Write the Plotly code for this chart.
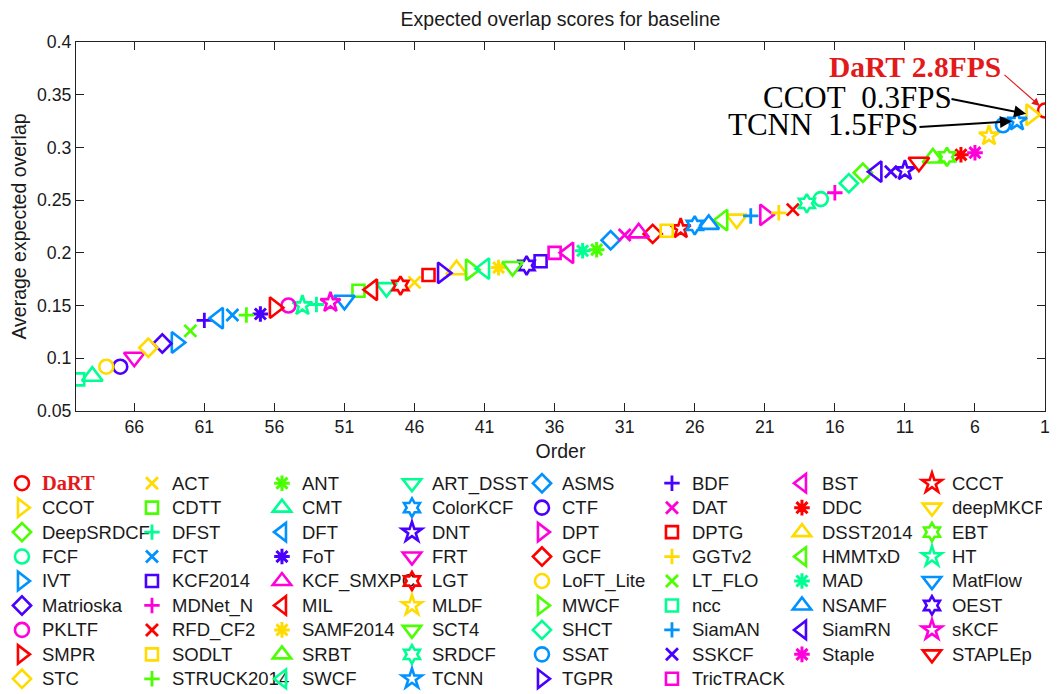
import plotly.graph_objects as go

# ---------------- data ----------------
trackers = ["DaRT", "ACT", "ANT", "ART_DSST", "ASMS", "BDF", "BST", "CCCT",
            "CCOT", "CDTT", "CMT", "ColorKCF", "CTF", "DAT", "DDC", "deepMKCF",
            "DeepSRDCF", "DFST", "DFT", "DNT", "DPT", "DPTG", "DSST2014", "EBT",
            "FCF", "FCT", "FoT", "FRT", "GCF", "GGTv2", "HMMTxD", "HT",
            "IVT", "KCF2014", "KCF_SMXPC", "LGT", "LoFT_Lite", "LT_FLO", "MAD", "MatFlow",
            "Matrioska", "MDNet_N", "MIL", "MLDF", "MWCF", "ncc", "NSAMF", "OEST",
            "PKLTF", "RFD_CF2", "SAMF2014", "SCT4", "SHCT", "SiamAN", "SiamRN", "sKCF",
            "SMPR", "SODLT", "SRBT", "SRDCF", "SSAT", "SSKCF", "Staple", "STAPLEp",
            "STC", "STRUCK2014", "SWCF", "TCNN", "TGPR", "TricTRACK"]

order = [1, 46, 33, 48, 32, 61, 35, 27,
         2, 50, 69, 26, 67, 31, 7, 23,
         14, 53, 60, 11, 21, 45, 43, 8,
         17, 59, 57, 66, 29, 20, 24, 54,
         63, 37, 30, 47, 68, 62, 34, 51,
         64, 16, 49, 5, 42, 70, 25, 38,
         55, 19, 40, 39, 15, 22, 13, 52,
         56, 28, 9, 18, 4, 12, 6, 10,
         65, 58, 41, 3, 44, 36]

eao = [0.335, 0.172, 0.203, 0.167, 0.212, 0.136, 0.200, 0.223,
       0.331, 0.164, 0.083, 0.226, 0.092, 0.217, 0.293, 0.232,
       0.276, 0.151, 0.138, 0.278, 0.236, 0.179, 0.184, 0.291,
       0.251, 0.141, 0.142, 0.101, 0.218, 0.238, 0.231, 0.150,
       0.115, 0.192, 0.219, 0.169, 0.092, 0.126, 0.202, 0.155,
       0.114, 0.257, 0.165, 0.311, 0.184, 0.080, 0.227, 0.188,
       0.150, 0.241, 0.186, 0.187, 0.266, 0.235, 0.277, 0.153,
       0.148, 0.221, 0.290, 0.247, 0.321, 0.277, 0.295, 0.286,
       0.110, 0.141, 0.185, 0.325, 0.181, 0.200]

x_tickvals = [66, 61, 56, 51, 46, 41, 36, 31, 26, 21, 16, 11, 6, 1]
y_tickvals = [0.05, 0.1, 0.15, 0.2, 0.25, 0.3, 0.35, 0.4]
y_ticktext = ["0.05", "0.1", "0.15", "0.2", "0.25", "0.3", "0.35", "0.4"]

NB = "\u00a0"
fps_labels = {"DaRT": "DaRT 2.8FPS",
              "CCOT": "CCOT" + NB + NB + "0.3FPS",
              "TCNN": "TCNN" + NB + NB + "1.5FPS"}

# ---------------- style cycles ----------------
color_cycle = ["#ff0000", "#ffdb00", "#49ff00", "#00ff92", "#0092ff", "#4900ff", "#ff00db"]
symbol_cycle = ["circle-open", "x-thin-open", "asterisk-open", "triangle-down-open",
                "diamond-open", "cross-thin-open", "triangle-left-open", "star-open",
                "triangle-right-open", "square-open", "triangle-up-open", "hexagram-open"]
size_by_symbol = {"circle-open": 14, "x-thin-open": 12, "asterisk-open": 13,
                  "triangle-down-open": 18, "diamond-open": 14, "cross-thin-open": 11,
                  "triangle-left-open": 18, "star-open": 15, "triangle-right-open": 18,
                  "square-open": 12, "triangle-up-open": 18, "hexagram-open": 14}
width_by_symbol = {"asterisk-open": 3.0, "x-thin-open": 2.8, "cross-thin-open": 2.8}

fig = go.Figure()
for i, name in enumerate(trackers):
    sym = symbol_cycle[i % len(symbol_cycle)]
    col = color_cycle[i % len(color_cycle)]
    if name == "DaRT":
        label = ("<span style=\"font-family:'Liberation Serif','Times New Roman',serif;"
                 "font-weight:bold;color:#e31a1c;font-size:20.5px\">DaRT</span>")
    else:
        label = '<span style="font-size:18.5px">%s</span>' % name
    fig.add_trace(go.Scatter(
        x=[order[i]], y=[eao[i]], mode="markers", name=label,
        marker=dict(symbol=sym, size=size_by_symbol[sym], color=col,
                    line=dict(color=col, width=width_by_symbol.get(sym, 2.6))),
        hoverinfo="name+y"))

# ---------------- annotations ----------------
idx = {n: k for k, n in enumerate(trackers)}
serif = "Liberation Serif, Times New Roman, serif"
# arrows
fig.add_annotation(x=order[idx["DaRT"]], y=eao[idx["DaRT"]], xref="x", yref="y",
                   ax=-42, ay=-37, showarrow=True, arrowhead=2, arrowsize=1.3,
                   arrowwidth=1.2, arrowcolor="#e31a1c", standoff=7, text="")
fig.add_annotation(x=order[idx["CCOT"]], y=eao[idx["CCOT"]], xref="x", yref="y",
                   ax=-81, ay=-16, showarrow=True, arrowhead=2, arrowsize=1.2,
                   arrowwidth=2, arrowcolor="black", standoff=5, text="")
fig.add_annotation(x=order[idx["TCNN"]], y=eao[idx["TCNN"]], xref="x", yref="y",
                   ax=-99, ay=6, showarrow=True, arrowhead=2, arrowsize=1.2,
                   arrowwidth=2, arrowcolor="black", standoff=5, text="")
# texts
fig.add_annotation(x=4.0, y=0.3765, xref="x", yref="y", showarrow=False,
                   xanchor="right", yanchor="middle", text="<b>%s</b>" % fps_labels["DaRT"],
                   font=dict(family=serif, size=29.5, color="#e31a1c"))
fig.add_annotation(x=7.5, y=0.3475, xref="x", yref="y", showarrow=False,
                   xanchor="right", yanchor="middle", text=fps_labels["CCOT"],
                   font=dict(family=serif, size=31, color="black"))
fig.add_annotation(x=9.9, y=0.3220, xref="x", yref="y", showarrow=False,
                   xanchor="right", yanchor="middle", text=fps_labels["TCNN"],
                   font=dict(family=serif, size=31, color="black"))

sans = "Liberation Sans, Arial, sans-serif"
W, H = 1044, 686
fig.update_layout(
    width=W, height=H,
    margin=dict(l=68, r=7, t=34, b=283, autoexpand=False),
    paper_bgcolor="white", plot_bgcolor="white",
    font=dict(family=sans, color="#1a1a1a"),
    title=dict(text="Expected overlap scores for baseline", x=0.5, xanchor="center",
               xref="paper", y=1 - 11 / H, yanchor="middle", yref="container",
               font=dict(family=sans, size=19.5, color="#1a1a1a")),
    xaxis=dict(range=[70.16, 1], tickmode="array", tickvals=x_tickvals,
               ticks="inside", ticklen=8, tickcolor="#222", showline=True,
               linecolor="#222", linewidth=1.2, mirror="ticks", showgrid=False,
               zeroline=False, tickfont=dict(size=17.7, family=sans, color="#1a1a1a"),
               title=dict(text="Order", font=dict(size=19.5, family=sans), standoff=8)),
    yaxis=dict(range=[0.05, 0.4], tickmode="array", tickvals=y_tickvals,
               ticktext=y_ticktext, ticks="inside", ticklen=8, tickcolor="#222",
               showline=True, linecolor="#222", linewidth=1.2, mirror="ticks",
               showgrid=False, zeroline=False,
               tickfont=dict(size=17.7, family=sans, color="#1a1a1a"),
               title=dict(text="Average expected overlap", font=dict(size=19.5, family=sans),
                          standoff=6)),
    legend=dict(orientation="h", x=-0.0764, xanchor="left", y=-0.149, yanchor="top",
                font=dict(size=16.5, family=sans, color="#1a1a1a"),
                entrywidthmode="pixels", entrywidth=85, itemsizing="trace",
                bgcolor="rgba(0,0,0,0)", borderwidth=0, traceorder="normal"),
    showlegend=True,
)

fig.write_html("out.html")
